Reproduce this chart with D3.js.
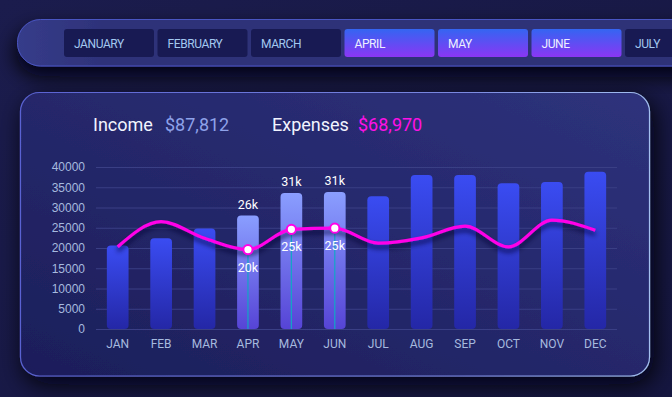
<!DOCTYPE html>
<html><head><meta charset="utf-8">
<script src="https://cdn.jsdelivr.net/npm/d3@7"></script>
<style>
html,body{margin:0;padding:0;background:#191a47;overflow:hidden;}
svg{display:block;}
</style></head>
<body>
<svg id="c" width="672" height="397"></svg>
<script>
// ---- data ----
const months = ["JAN","FEB","MAR","APR","MAY","JUN","JUL","AUG","SEP","OCT","NOV","DEC"];
const monthNames = ["JANUARY","FEBRUARY","MARCH","APRIL","MAY","JUNE","JULY"];
const income = [20600,22400,24800,28000,33600,33800,32800,38000,38000,36000,36300,38800];
const expenses = [20300,26500,22400,19600,24600,24900,21200,22500,25400,20300,26900,24400];
const selected = ["APR","MAY","JUN"];
const selectedNames = ["APRIL","MAY","JUNE"];
const incomeLabels = {APR:"26k", MAY:"31k", JUN:"31k"};
const yTicks = [0,5000,10000,15000,20000,25000,30000,35000,40000];
const incomeTotal = "$87,812";
const expensesTotal = "$68,970";

const svg = d3.select("#c");
const defs = svg.append("defs");

function lg(id, x1,y1,x2,y2, stops){
  const g = defs.append("linearGradient").attr("id",id)
    .attr("x1",x1).attr("y1",y1).attr("x2",x2).attr("y2",y2);
  stops.forEach(s=>g.append("stop").attr("offset",s[0]).attr("stop-color",s[1]));
}
lg("bgG","0","0","1","1",[[0,"#1b1c4d"],[1,"#151640"]]);
lg("pillG","0","0","1","0",[[0,"#363c8a"],[0.12,"#2e3279"],[1,"#2d3177"]]);
lg("cardG","0","1","1","0",[[0,"#1c1e5a"],[1,"#2e327c"]]);
lg("cardS","0","0","1","0",[[0,"#5a62d2"],[0.7,"#7a88e0"],[1,"#a4c0f0"]]);
lg("btnOn","0","0","0","1",[[0,"#3465f2"],[1,"#8a36f4"]]);
lg("barN","0","0","0","1",[[0,"#3a4cf2"],[1,"#2427a6"]]);
lg("barH","0","0","0","1",[[0,"#8a9eff"],[1,"#5644d6"]]);

const sh = defs.append("filter").attr("id","sh").attr("x","-20%").attr("y","-40%").attr("width","140%").attr("height","200%");
sh.append("feDropShadow").attr("dx",-2).attr("dy",10).attr("stdDeviation",10).attr("flood-color","#03040c").attr("flood-opacity",0.95);
const sh2 = defs.append("filter").attr("id","sh2").attr("x","-20%").attr("y","-20%").attr("width","140%").attr("height","150%");
sh2.append("feDropShadow").attr("dx",4).attr("dy",8).attr("stdDeviation",12).attr("flood-color","#03040c").attr("flood-opacity",0.95);
const lsh = defs.append("filter").attr("id","lsh").attr("x","-10%").attr("y","-50%").attr("width","120%").attr("height","200%");
lsh.append("feDropShadow").attr("dx",0).attr("dy",4).attr("stdDeviation",2.5).attr("flood-color","#080a30").attr("flood-opacity",0.8);

svg.append("rect").attr("width",672).attr("height",397).attr("fill","url(#bgG)");

// ---- top month selector ----
svg.append("rect").attr("x",17.5).attr("y",19.5).attr("width",720).attr("height",46.5).attr("rx",23)
  .attr("fill","url(#pillG)").attr("stroke","#4a55c2").attr("stroke-width",1).attr("filter","url(#sh)");
const bx = d3.scaleLinear().domain([0,1]).range([64,157.5]);
const btn = svg.append("g").selectAll("g").data(monthNames).join("g")
  .attr("transform",(d,i)=>`translate(${bx(i)},29)`);
btn.append("rect").attr("width",90).attr("height",28).attr("rx",3)
  .attr("fill",d=>selectedNames.includes(d)?"url(#btnOn)":"#181a53");
btn.append("text").attr("x",10).attr("y",19).text(d=>d)
  .attr("font-family","Roboto, 'Liberation Sans', sans-serif").attr("font-size",12)
  .attr("letter-spacing",-0.4)
  .attr("fill",d=>selectedNames.includes(d)?"#eef0ff":"#a3c8f0");

// ---- card ----
svg.append("rect").attr("x",20.5).attr("y",92.5).attr("width",629).attr("height",283.5).attr("rx",19)
  .attr("fill","url(#cardG)").attr("stroke","url(#cardS)").attr("stroke-width",1.2).attr("filter","url(#sh2)");

// header
const hf = "Roboto, 'Open Sans', sans-serif";
svg.append("text").attr("x",93).attr("y",131).text("Income").attr("font-family",hf).attr("font-size",18).attr("fill","#f2f4ff");
svg.append("text").attr("x",165).attr("y",131).text(incomeTotal).attr("font-family",hf).attr("font-size",18).attr("fill","#8ea2ea");
svg.append("text").attr("x",272).attr("y",131).text("Expenses").attr("font-family",hf).attr("font-size",18).attr("fill","#f2f4ff");
svg.append("text").attr("x",358).attr("y",131).text(expensesTotal).attr("font-family",hf).attr("font-size",18).attr("fill","#ff10e6");

// ---- chart ----
const x = d3.scaleBand().domain(months).range([96,617]).paddingInner(0.5).paddingOuter(0.25);
const y = d3.scaleLinear().domain([0,40000]).range([329,167]);

const grid = svg.append("g");
grid.selectAll("line").data(yTicks).join("line")
  .attr("x1",96).attr("x2",617).attr("y1",d=>y(d)+0.5).attr("y2",d=>y(d)+0.5)
  .attr("stroke","#3a3f85").attr("stroke-width",1);

const yAxis = svg.append("g").attr("transform","translate(96,0)")
  .call(d3.axisLeft(y).tickValues(yTicks).tickSize(0).tickPadding(11).tickFormat(d3.format("d")));
yAxis.select(".domain").remove();
yAxis.selectAll("text").attr("font-family","'Liberation Sans', Arial, sans-serif").attr("font-size",12).attr("fill","#a6badf");

const xAxis = svg.append("g").attr("transform","translate(0,337)")
  .call(d3.axisBottom(x).tickSize(0).tickPadding(2));
xAxis.select(".domain").remove();
xAxis.selectAll("text").attr("font-family","Roboto, 'Liberation Sans', sans-serif").attr("font-size",12).attr("fill","#a6badf");

// bars
svg.append("g").selectAll("rect").data(months).join("rect")
  .attr("x",d=>x(d)).attr("width",x.bandwidth())
  .attr("y",(d,i)=>y(income[i])).attr("height",(d,i)=>y(0)-y(income[i]))
  .attr("rx",4)
  .attr("fill",d=>selected.includes(d)?"url(#barH)":"url(#barN)");

// drop lines inside selected bars
svg.append("g").selectAll("line").data(months.filter(m=>selected.includes(m))).join("line")
  .attr("x1",d=>x(d)+x.bandwidth()/2).attr("x2",d=>x(d)+x.bandwidth()/2)
  .attr("y1",d=>y(expenses[months.indexOf(d)])).attr("y2",y(0))
  .attr("stroke","#12a6c6").attr("stroke-width",1.2);

// expenses line
const line = d3.line().x((d,i)=>x(months[i])+x.bandwidth()/2).y(d=>y(d)).curve(d3.curveMonotoneX);
svg.append("path").datum(expenses).attr("d",line)
  .attr("fill","none").attr("stroke","#ff00e8").attr("stroke-width",3.2).attr("filter","url(#lsh)");

// markers
const sel = months.filter(m=>selected.includes(m));
svg.append("g").selectAll("circle").data(sel).join("circle")
  .attr("cx",d=>x(d)+x.bandwidth()/2).attr("cy",d=>y(expenses[months.indexOf(d)]))
  .attr("r",4.6).attr("fill","#ffffff").attr("stroke","#ff00e8").attr("stroke-width",2);

const lf = "Roboto, 'Liberation Sans', sans-serif";
const kfmt = v => Math.round(v/1000)+"k";
// expense labels below points
svg.append("g").selectAll("text").data(sel).join("text")
  .attr("x",d=>x(d)+x.bandwidth()/2).attr("y",d=>y(expenses[months.indexOf(d)])+22)
  .attr("text-anchor","middle").attr("font-family",lf).attr("font-size",12.5).attr("fill","#ffffff")
  .text(d=>kfmt(expenses[months.indexOf(d)]));
// income labels above bars
svg.append("g").selectAll("text").data(sel).join("text")
  .attr("x",d=>x(d)+x.bandwidth()/2).attr("y",d=>y(income[months.indexOf(d)])-7)
  .attr("text-anchor","middle").attr("font-family",lf).attr("font-size",12.5).attr("fill","#ffffff")
  .text(d=>incomeLabels[d]);
</script>
</body></html>
